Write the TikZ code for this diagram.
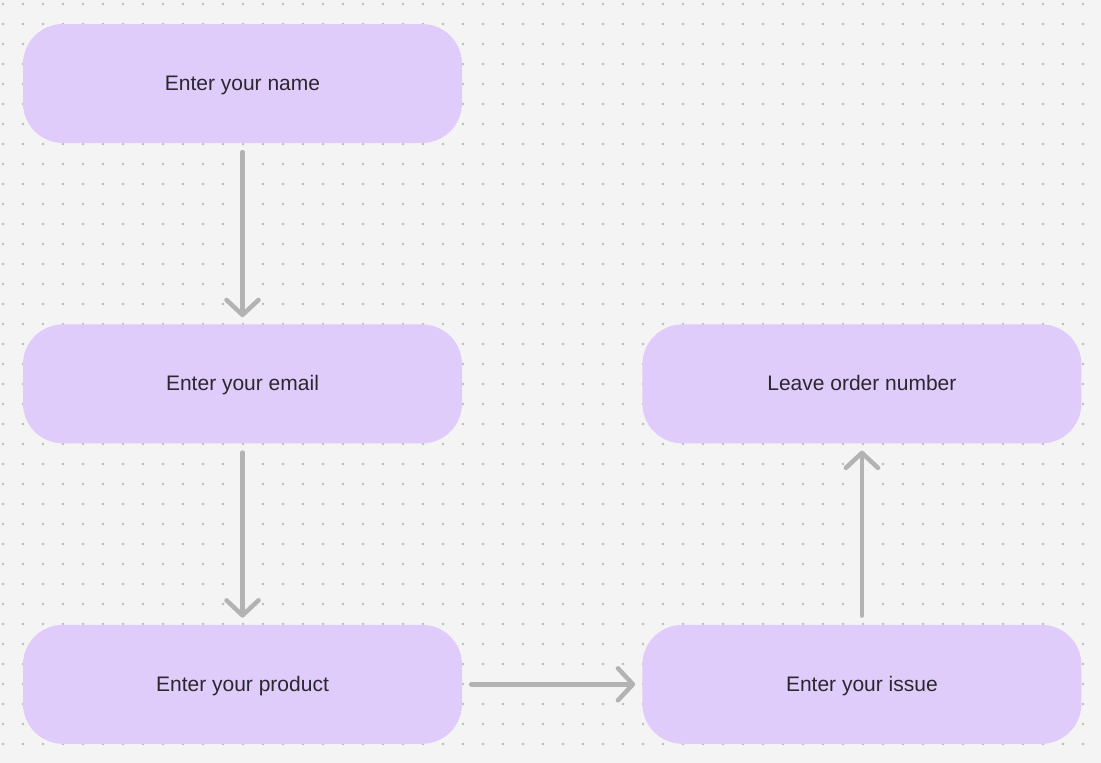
\documentclass[tikz,border=0pt]{standalone}
\usepackage{fontspec}
\setmainfont{Liberation Sans}
\usetikzlibrary{positioning,arrows.meta}

\definecolor{canvas_gray}{HTML}{F4F4F4}
\definecolor{grid_dot}{HTML}{BBBBBB}
\definecolor{box_fill}{HTML}{E0CCFA}
\definecolor{label_text}{HTML}{2B2630}
\definecolor{arrow_gray}{HTML}{B3B3B3}

\begin{document}
\begin{tikzpicture}[
  x = 1pt,
  y = -1pt,
  node distance = 181pt and 180pt,
  step_box/.style={
    rectangle,
    rounded corners = 40pt,
    minimum width = 439pt,
    minimum height = 119pt,
    inner sep = 0pt,
    text height = 14pt,
    text depth = 0pt,
    fill = box_fill,
    text = label_text,
    font = \fontsize{21}{25}\selectfont
  },
  flow_arrow/.style={
    draw = arrow_gray,
    line width = 4.5pt,
    line cap = round,
    -{Straight Barb[length=15pt, width=32pt, round]},
    shorten <= 9pt,
    shorten >= 7pt
  }
]%
% canvas and dot grid
\fill [canvas_gray] (0,0) rectangle (1101,763);
\useasboundingbox (0,0) rectangle (1101,763);
\foreach \i in {0,...,54} {
  \foreach \j in {0,...,37} {
    \fill [grid_dot] (3+20*\i, 4+20*\j) circle (1.3pt);
  }
}
% steps
\node [step_box] (name) at (242.5,83.5) {Enter your name};
\node [step_box, below=of name] (email) {Enter your email};
\node [step_box, below=of email] (product) {Enter your product};
\node [step_box, right=of product] (issue) {Enter your issue};
\node [step_box, above=of issue] (order) {Leave order number};
% flow
\draw [flow_arrow] (name) -- (email);
\draw [flow_arrow] (email) -- (product);
\draw [flow_arrow] (product) -- (issue);
\draw [flow_arrow] (issue) -- (order);
\end{tikzpicture}
\end{document}
